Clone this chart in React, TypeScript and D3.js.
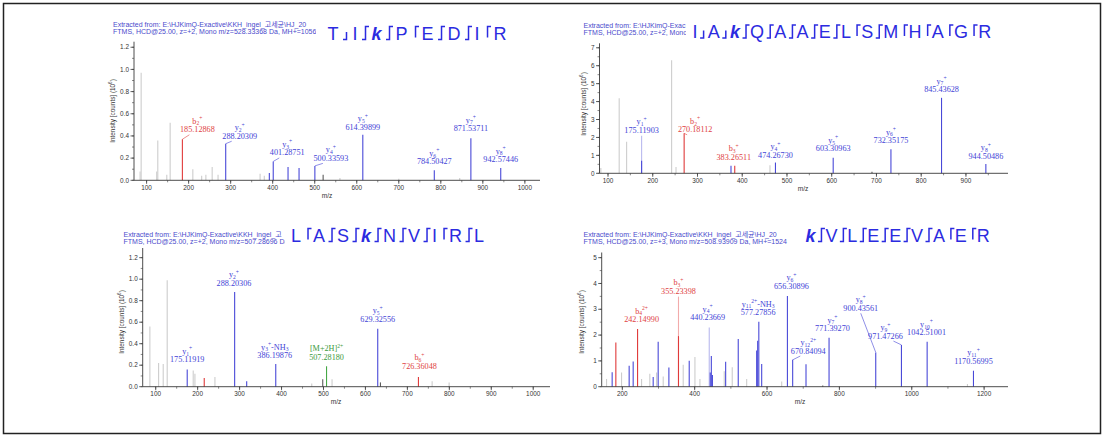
import React from 'react';
import * as d3 from 'd3';

const W = 1105;
const H = 436;

const SANS = "Arial, 'Liberation Sans', 'Noto Sans CJK KR', sans-serif";
const SERIF = "'Times New Roman', 'Liberation Serif', serif";

// ---------------- Panel 1 : T I k P E D I R ----------------
const p1Sequence = ['T', 'I', 'k', 'P', 'E', 'D', 'I', 'R'];
const p1Cleavages = ['y', 'by', 'by', 'b', 'by', 'by', 'b'];
const p1Header = [
  'Extracted from: E:\\HJKimQ-Exactive\\KKH_ingel_고세균\\HJ_20',
  'FTMS, HCD@25.00, z=+2, Mono m/z=528.33368 Da, MH+=1056',
];
const p1XTicks = [100, 200, 300, 400, 500, 600, 700, 800, 900, 1000];
const p1YTicks = [0, 0.2, 0.4, 0.6, 0.8, 1.0, 1.2];
const p1Peaks: [number, number, string][] = [
  [84.5, 0.08, 'g'], [87, 0.97, 'g'], [124, 0.08, 'g'], [126.6, 0.36, 'g'], [148, 0.05, 'g'],
  [156, 0.52, 'g'], [210, 0.1, 'g'], [231, 0.04, 'g'], [241, 0.05, 'g'], [256, 0.12, 'g'],
  [270, 0.05, 'g'], [370, 0.06, 'g'], [380, 0.04, 'g'], [392, 0.065, 'b'], [436.5, 0.12, 'b'],
  [462.7, 0.11, 'b'], [520, 0.05, 'd'], [560, 0.02, 'g'], [700, 0.015, 'g'], [845, 0.02, 'g'],
];
const p1IonMz = [185.12868, 288.20309, 401.28751, 500.33593, 614.39899, 784.50427, 871.53711, 942.57446];
const p1IonIntensity = [0.37, 0.33, 0.17, 0.13, 0.41, 0.09, 0.38, 0.11];
const p1IonKind = ['r', 'b', 'b', 'b', 'b', 'b', 'b', 'b'];
const p1IonName = [
  ['b', '2', '+', ''], ['y', '2', '+', ''], ['y', '3', '+', ''], ['y', '4', '+', ''],
  ['y', '5', '+', ''], ['y', '6', '+', ''], ['y', '7', '+', ''], ['y', '8', '+', ''],
];

// ---------------- Panel 2 : I A k Q A A E L S M H A G R ----------------
const p2Sequence = ['I', 'A', 'k', 'Q', 'A', 'A', 'E', 'L', 'S', 'M', 'H', 'A', 'G', 'R'];
const p2Cleavages = ['y', 'y', 'by', 'by', 'by', 'by', 'by', 'b', 'by', 'b', 'b', 'b', 'b'];
const p2Header = [
  'Extracted from: E:\\HJKimQ-Exac',
  'FTMS, HCD@25.00, z=+2, Mono',
];
const p2XTicks = [100, 200, 300, 400, 500, 600, 700, 800, 900];
const p2YTicks = [0, 1, 2, 3, 4, 5, 6, 7];
const p2Peaks: [number, number, string][] = [
  [84, 0.3, 'g'], [125, 4.18, 'g'], [141.6, 1.76, 'g'], [175.12, 0.7, 'b'], [242.2, 6.3, 'g'],
  [252, 0.35, 'g'], [374.9, 0.42, 'b'], [462, 0.45, 'g'], [690, 0.08, 'd'],
];
const p2IonMz = [175.11903, 270.18112, 383.26511, 474.2673, 603.30963, 732.35175, 845.43628, 944.50486];
const p2IonIntensity = [2.1, 2.23, 0.42, 0.6, 0.87, 1.34, 4.21, 0.52];
const p2IonKind = ['lb', 'r', 'r', 'b', 'b', 'b', 'b', 'b'];
const p2IonName = [
  ['y', '1', '+', ''], ['b', '2', '+', ''], ['b', '3', '+', ''], ['y', '4', '+', ''],
  ['y', '5', '+', ''], ['y', '6', '+', ''], ['y', '7', '+', ''], ['y', '8', '+', ''],
];

// ---------------- Panel 3 : L A S k N V I R L ----------------
const p3Sequence = ['L', 'A', 'S', 'k', 'N', 'V', 'I', 'R', 'L'];
const p3Cleavages = ['b', 'by', 'by', 'by', 'by', 'by', 'b', 'by'];
const p3Header = [
  'Extracted from: E:\\HJKimQ-Exactive\\KKH_ingel_고',
  'FTMS, HCD@25.00, z=+2, Mono m/z=507.28696 Da',
];
const p3XTicks = [100, 200, 300, 400, 500, 600, 700, 800, 900, 1000];
const p3YTicks = [0, 0.2, 0.4, 0.6, 0.8, 1.0, 1.2];
const p3Peaks: [number, number, string][] = [
  [86.1, 0.56, 'g'], [106.9, 0.22, 'g'], [117.9, 0.21, 'g'], [127.4, 0.99, 'g'], [189.4, 0.15, 'g'],
  [193.5, 0.12, 'g'], [215.7, 0.08, 'r'], [241.2, 0.09, 'g'], [316.9, 0.05, 'b'], [472, 0.03, 'g'],
  [498.2, 0.07, 'd'], [520.4, 0.07, 'g'], [635.8, 0.04, 'd'], [759, 0.05, 'g'], [799.5, 0.04, 'g'],
];
const p3IonMz = [175.11919, 288.20306, 386.19876, 507.2818, 629.32556, 726.36048];
const p3IonIntensity = [0.16, 0.88, 0.21, 0.19, 0.54, 0.09];
const p3IonKind = ['b', 'b', 'b', 'G', 'b', 'r'];
const p3IonName = [
  ['y', '1', '+', ''], ['y', '2', '+', ''], ['y', '3', '+', '-NH3'], ['[M+2H]', '', '2+', ''],
  ['y', '5', '+', ''], ['b', '6', '+', ''],
];

// ---------------- Panel 4 : k V L E E V A E R ----------------
const p4Sequence = ['k', 'V', 'L', 'E', 'E', 'V', 'A', 'E', 'R'];
const p4Cleavages = ['by', 'by', 'by', 'by', 'by', 'by', 'b', 'b'];
const p4Header = [
  'Extracted from: E:\\HJKimQ-Exactive\\KKH_ingel_고세균\\HJ_20',
  'FTMS, HCD@25.00, z=+3, Mono m/z=508.93909 Da, MH+=1524',
];
const p4XTicks = [200, 400, 600, 800, 1000, 1200];
const p4YTicks = [0, 1, 2, 3, 4, 5];
const p4Peaks: [number, number, string][] = [
  [156.4, 0.3, 'g'], [171.9, 0.56, 'b'], [182.1, 1.71, 'r'], [197.9, 0.55, 'g'], [218.9, 0.81, 'b'],
  [230, 0.98, 'b'], [253.2, 0.3, 'g'], [276, 0.5, 'g'], [285.3, 0.38, 'b'], [294.7, 0.55, 'g'],
  [299.1, 1.74, 'b'], [313, 0.4, 'g'], [328.7, 0.74, 'b'], [355.23, 1.96, 'r'], [368.3, 0.85, 'g'],
  [384.9, 1.01, 'b'], [400.7, 1.15, 'g'], [414.5, 0.3, 'g'], [443, 0.55, 'b'], [446, 1.19, 'b'],
  [449, 0.45, 'b'], [481.7, 0.6, 'g'], [485.6, 0.97, 'b'], [503.8, 0.75, 'g'], [520.4, 1.85, 'b'],
  [543.7, 0.3, 'g'], [571.3, 1.4, 'b'], [574.1, 1.78, 'b'], [585.2, 0.88, 'b'], [640.5, 0.2, 'g'],
  [707.7, 0.87, 'b'], [754, 0.05, 'd'], [1153.9, 0.1, 'g'],
];
const p4IonMz = [242.1499, 355.23398, 440.23669, 577.27856, 656.30896, 670.84094, 771.3927, 900.43561, 971.47266, 1042.51001, 1170.56995];
const p4IonIntensity = [2.24, 3.49, 2.29, 2.52, 3.51, 1.04, 1.9, 1.33, 1.62, 1.74, 0.62];
const p4IonKind = ['r', 'pr', 'lb', 'b', 'b', 'b', 'b', 'b', 'b', 'b', 'b'];
const p4IonName = [
  ['b', '4', '2+', ''], ['b', '3', '+', ''], ['y', '4', '+', ''], ['y', '11', '2+', '-NH3'],
  ['y', '6', '+', ''], ['y', '12', '2+', ''], ['y', '7', '+', ''], ['y', '8', '+', ''],
  ['y', '9', '+', ''], ['y', '10', '+', ''], ['y', '11', '+', ''],
];

// ---------------- layout (pixel offsets of the annotation labels) ----------------
const p1LabelOffset = [[15, -7], [14, -5], [14, -6], [16, -5], [0, -5], [0, -6], [0, -7], [0, -6]];
const p2LabelOffset = [[0, -2.6], [11, -1], [-1, -6], [0, -4.7], [0, -6.4], [0, -6], [0, -5.7], [0, -5.3]];
const p3LabelOffset = [[0, -7], [-0.7, -6.4], [-1, -6], [0, -6.4], [0, -7], [1, -8]];
const p4LabelOffset = [[4, -6.7], [0, -2.7], [-1.6, -7.4], [-0.7, -6.4], [4, -7.3], [15.6, -6.3], [3.4, -6.4], [-15, -41.6], [-16, -6.3], [-0.6, -6.4], [0, -6.7]];

const PEAK_COLOR: Record<string, string> = {
  g: '#cdcdcd', b: '#4949d8', r: '#e03a3a', G: '#46a846', d: '#5c5c5c', lb: '#b9b9ee', pr: '#f2abab',
};
const LABEL_COLOR: Record<string, string> = {
  b: '#4343d6', r: '#e04343', G: '#3c9a3c', lb: '#4343d6', pr: '#e04343', g: '#888', d: '#555',
};
const ZORDER: Record<string, number> = { g: 0, lb: 1, pr: 1, d: 2, b: 3, r: 3, G: 3 };

const LETTER_W: Record<string, number> = {
  T: 0.611, I: 0.278, k: 0.556, P: 0.667, E: 0.667, D: 0.722, R: 0.722, A: 0.667, Q: 0.778,
  L: 0.556, S: 0.667, M: 0.833, H: 0.722, G: 0.778, N: 0.722, V: 0.667,
};

const SEQ_COLOR = '#2b2be0';
const HEADER_COLOR = '#4a4acc';
const AXIS_COLOR = '#3a3a3a';

interface PanelCfg {
  id: string;
  xDomain: [number, number];
  xRange: [number, number];
  yDomain: [number, number];
  yRange: [number, number];
  xTicks: number[];
  xMinorStep: number;
  yTicks: number[];
  yMinorStep: number;
  yFmt: (v: number) => string;
  peaks: [number, number, string][];
  ionMz: number[];
  ionInt: number[];
  ionKind: string[];
  ionName: string[][];
  labelOffset: number[][];
  header: string[];
  headerX: number;
  headerY: number;
  headerClip: number;
  seq: string[];
  cleav: string[];
  seqX: number;
  seqBase: number;
  seqGap: number;
  yTitleX: number;
  yTitleY: number;
  xTitleX: number;
  xTitleY: number;
}

function IonName({ x, y, name, fill }: { x: number; y: number; name: string[]; fill: string }) {
  const [ion, sub, sup, suffix] = name;
  const fs = 8.2;
  const small = 5.6;
  let cur = 0;
  const parts: React.ReactNode[] = [];
  parts.push(<tspan key="i">{ion}</tspan>);
  if (sub) {
    const d = 1.8 - cur;
    cur = 1.8;
    parts.push(<tspan key="s" fontSize={small} dy={d}>{sub}</tspan>);
  }
  if (sup) {
    const d = -3.4 - cur;
    cur = -3.4;
    parts.push(<tspan key="p" fontSize={small} dy={d}>{sup}</tspan>);
  }
  if (suffix) {
    const m = suffix.match(/^(.*?)(\d+)$/);
    const d = 0 - cur;
    cur = 0;
    if (m) {
      parts.push(<tspan key="f" fontSize={fs} dy={d}>{m[1]}</tspan>);
      parts.push(<tspan key="f2" fontSize={small} dy={1.8}>{m[2]}</tspan>);
    } else {
      parts.push(<tspan key="f" fontSize={fs} dy={d}>{suffix}</tspan>);
    }
  }
  return (
    <text x={x} y={y} textAnchor="middle" fontFamily={SERIF} fontSize={fs} fill={fill}>
      {parts}
    </text>
  );
}

function Sequence({ cfg }: { cfg: PanelCfg }) {
  const fs = 18;
  const els: React.ReactNode[] = [];
  let cx = cfg.seqX;
  const bl = cfg.seqBase;
  const top = bl - 13;
  const mid = bl - 6.5;
  cfg.seq.forEach((ch, i) => {
    const bold = ch === 'k';
    els.push(
      <text key={'l' + i} x={cx - 1} y={bl} fontSize={fs} fontFamily={SANS}
        fontWeight={bold ? 'bold' : 'normal'} fontStyle={bold ? 'italic' : 'normal'} fill={SEQ_COLOR}>
        {ch}
      </text>
    );
    cx += LETTER_W[ch] * fs;
    if (i < cfg.cleav.length) {
      const mx = cx + cfg.seqGap / 2;
      const t = cfg.cleav[i];
      let d = '';
      if (t === 'b') d = `M${mx},${bl - 2} V${top} H${mx + 3.5}`;
      else if (t === 'y') d = `M${mx},${mid - 1} V${bl} H${mx - 3.5}`;
      else d = `M${mx + 3.5},${top} H${mx} V${bl} H${mx - 3.5}`;
      els.push(<path key={'m' + i} d={d} fill="none" stroke={SEQ_COLOR} strokeWidth={1.5} />);
      cx += cfg.seqGap;
    }
  });
  return <g>{els}</g>;
}

function Panel({ cfg }: { cfg: PanelCfg }) {
  const x = d3.scaleLinear().domain(cfg.xDomain).range(cfg.xRange);
  const y = d3.scaleLinear().domain(cfg.yDomain).range(cfg.yRange);
  const y0 = y(0);
  const x0 = cfg.xRange[0];

  const ions = cfg.ionMz.map((mz, i) => ({
    mz, int: cfg.ionInt[i], kind: cfg.ionKind[i], name: cfg.ionName[i], off: cfg.labelOffset[i],
  }));
  const allPeaks = [
    ...cfg.peaks.map((p) => ({ mz: p[0], int: p[1], kind: p[2] })),
    ...ions.map((p) => ({ mz: p.mz, int: p.int, kind: p.kind })),
  ].sort((a, b) => ZORDER[a.kind] - ZORDER[b.kind]);

  const xMinor = d3.range(Math.ceil(cfg.xDomain[0] / cfg.xMinorStep) * cfg.xMinorStep, cfg.xDomain[1], cfg.xMinorStep);
  const yMinor = d3.range(0, cfg.yDomain[1], cfg.yMinorStep);

  return (
    <g>
      <defs>
        <clipPath id={'hc' + cfg.id}>
          <rect x={cfg.headerX - 3} y={cfg.headerY - 10} width={cfg.headerClip - cfg.headerX + 3} height={20} />
        </clipPath>
      </defs>
      {/* header */}
      <g clipPath={`url(#hc${cfg.id})`}>
        {cfg.header.map((t, i) => (
          <text key={i} x={cfg.headerX} y={cfg.headerY + i * 7} fontSize={7.0} fontFamily={SANS} fill={HEADER_COLOR}>
            {t}
          </text>
        ))}
      </g>
      <Sequence cfg={cfg} />

      {/* peaks */}
      {allPeaks.map((p, i) => (
        <line key={'p' + i} x1={x(p.mz)} x2={x(p.mz)} y1={y0} y2={y(p.int)}
          stroke={PEAK_COLOR[p.kind]} strokeWidth={1.1} />
      ))}

      {/* axes */}
      <line x1={x0} x2={cfg.xRange[1]} y1={y0} y2={y0} stroke={AXIS_COLOR} strokeWidth={0.9} />
      <line x1={x0} x2={x0} y1={y0} y2={cfg.yRange[1]} stroke={AXIS_COLOR} strokeWidth={0.9} />
      {xMinor.map((v, i) => (
        <line key={'xm' + i} x1={x(v)} x2={x(v)} y1={y0} y2={y0 + 2} stroke={AXIS_COLOR} strokeWidth={0.6} />
      ))}
      {cfg.xTicks.map((v) => (
        <g key={'xt' + v}>
          <line x1={x(v)} x2={x(v)} y1={y0} y2={y0 + 3.5} stroke={AXIS_COLOR} strokeWidth={0.8} />
          <text x={x(v)} y={y0 + 9.6} fontSize={6.4} fontFamily={SANS} fill="#333" textAnchor="middle">{v}</text>
        </g>
      ))}
      {yMinor.map((v, i) => (
        <line key={'ym' + i} x1={x0 - 2} x2={x0} y1={y(v)} y2={y(v)} stroke={AXIS_COLOR} strokeWidth={0.6} />
      ))}
      {cfg.yTicks.map((v) => (
        <g key={'yt' + v}>
          <line x1={x0 - 3.5} x2={x0} y1={y(v)} y2={y(v)} stroke={AXIS_COLOR} strokeWidth={0.8} />
          <text x={x0 - 5} y={y(v) + 2.2} fontSize={6.4} fontFamily={SANS} fill="#333" textAnchor="end">
            {cfg.yFmt(v)}
          </text>
        </g>
      ))}
      <text x={cfg.xTitleX} y={cfg.xTitleY} fontSize={6.6} fontFamily={SANS} fill="#333" textAnchor="middle">m/z</text>
      <text transform={`translate(${cfg.yTitleX},${cfg.yTitleY}) rotate(-90)`} fontSize={6.4} fontFamily={SANS}
        fill="#333" textAnchor="middle">
        Intensity [counts] (10<tspan fontSize={4.6} dy={-2.6}>6</tspan><tspan dy={2.6}>)</tspan>
      </text>

      {/* annotations */}
      {ions.map((ion, i) => {
        const px = x(ion.mz);
        const py = y(ion.int);
        const lx = px + ion.off[0];
        const bl = py + ion.off[1];
        const col = LABEL_COLOR[ion.kind];
        let leader: React.ReactNode = null;
        if (Math.abs(ion.off[0]) > 8) {
          const sx = Math.abs(ion.off[1]) > 15 ? lx : lx - Math.sign(ion.off[0]) * 8;
          leader = <line x1={px} y1={py} x2={sx} y2={bl + 2.5} stroke={col} strokeWidth={0.6} />;
        }
        return (
          <g key={'a' + i}>
            {leader}
            <IonName x={lx} y={bl - 8.6} name={ion.name} fill={col} />
            <text x={lx} y={bl} textAnchor="middle" fontFamily={SERIF} fontSize={8.2} fill={col}>
              {ion.mz.toFixed(5)}
            </text>
          </g>
        );
      })}
    </g>
  );
}

const fmt1 = (v: number) => v.toFixed(1);
const fmt0 = (v: number) => String(v);

const panels: PanelCfg[] = [
  {
    id: '1', xDomain: [70, 1036], xRange: [134, 540], yDomain: [0, 1.25], yRange: [180.3, 41.7],
    xTicks: p1XTicks, xMinorStep: 50, yTicks: p1YTicks, yMinorStep: 0.1, yFmt: fmt1,
    peaks: p1Peaks, ionMz: p1IonMz, ionInt: p1IonIntensity, ionKind: p1IonKind, ionName: p1IonName,
    labelOffset: p1LabelOffset, header: p1Header, headerX: 113, headerY: 27, headerClip: 316,
    seq: p1Sequence, cleav: p1Cleavages, seqX: 328.5, seqBase: 39.5, seqGap: 14,
    yTitleX: 115, yTitleY: 111, xTitleX: 327, xTitleY: 198,
  },
  {
    id: '2', xDomain: [81, 994], xRange: [599.5, 1008], yDomain: [0, 7.25], yRange: [173.3, 43.3],
    xTicks: p2XTicks, xMinorStep: 50, yTicks: p2YTicks, yMinorStep: 0.5, yFmt: fmt0,
    peaks: p2Peaks, ionMz: p2IonMz, ionInt: p2IonIntensity, ionKind: p2IonKind, ionName: p2IonName,
    labelOffset: p2LabelOffset, header: p2Header, headerX: 583.5, headerY: 27.7, headerClip: 686,
    seq: p2Sequence, cleav: p2Cleavages, seqX: 693.5, seqBase: 38, seqGap: 10.2,
    yTitleX: 585.5, yTitleY: 104, xTitleX: 803, xTitleY: 191,
  },
  {
    id: '3', xDomain: [69, 1040], xRange: [142.7, 550], yDomain: [0, 1.29], yRange: [386.7, 248],
    xTicks: p3XTicks, xMinorStep: 50, yTicks: p3YTicks, yMinorStep: 0.1, yFmt: fmt1,
    peaks: p3Peaks, ionMz: p3IonMz, ionInt: p3IonIntensity, ionKind: p3IonKind, ionName: p3IonName,
    labelOffset: p3LabelOffset, header: p3Header, headerX: 123.5, headerY: 236.7, headerClip: 285,
    seq: p3Sequence, cleav: p3Cleavages, seqX: 292, seqBase: 241.5, seqGap: 12,
    yTitleX: 124, yTitleY: 322, xTitleX: 336, xTitleY: 404,
  },
  {
    id: '4', xDomain: [143, 1266], xRange: [601.7, 1008], yDomain: [0, 5.2], yRange: [386.7, 252.5],
    xTicks: p4XTicks, xMinorStep: 100, yTicks: p4YTicks, yMinorStep: 0.5, yFmt: fmt0,
    peaks: p4Peaks, ionMz: p4IonMz, ionInt: p4IonIntensity, ionKind: p4IonKind, ionName: p4IonName,
    labelOffset: p4LabelOffset, header: p4Header, headerX: 583.5, headerY: 236.7, headerClip: 798,
    seq: p4Sequence, cleav: p4Cleavages, seqX: 806.5, seqBase: 241.5, seqGap: 9.9,
    yTitleX: 584, yTitleY: 322, xTitleX: 800, xTitleY: 404,
  },
];

export default function App() {
  return (
    <svg width={W} height={H} viewBox={`0 0 ${W} ${H}`}
      style={{ position: 'absolute', left: 0, top: 0, background: '#fff' }}>
      <rect x={0} y={0} width={W} height={H} fill="#fff" />
      <rect x={3.5} y={3.5} width={1097} height={430} fill="none" stroke="#222" strokeWidth={1.5} />
      {panels.map((p) => <Panel key={p.id} cfg={p} />)}
    </svg>
  );
}
